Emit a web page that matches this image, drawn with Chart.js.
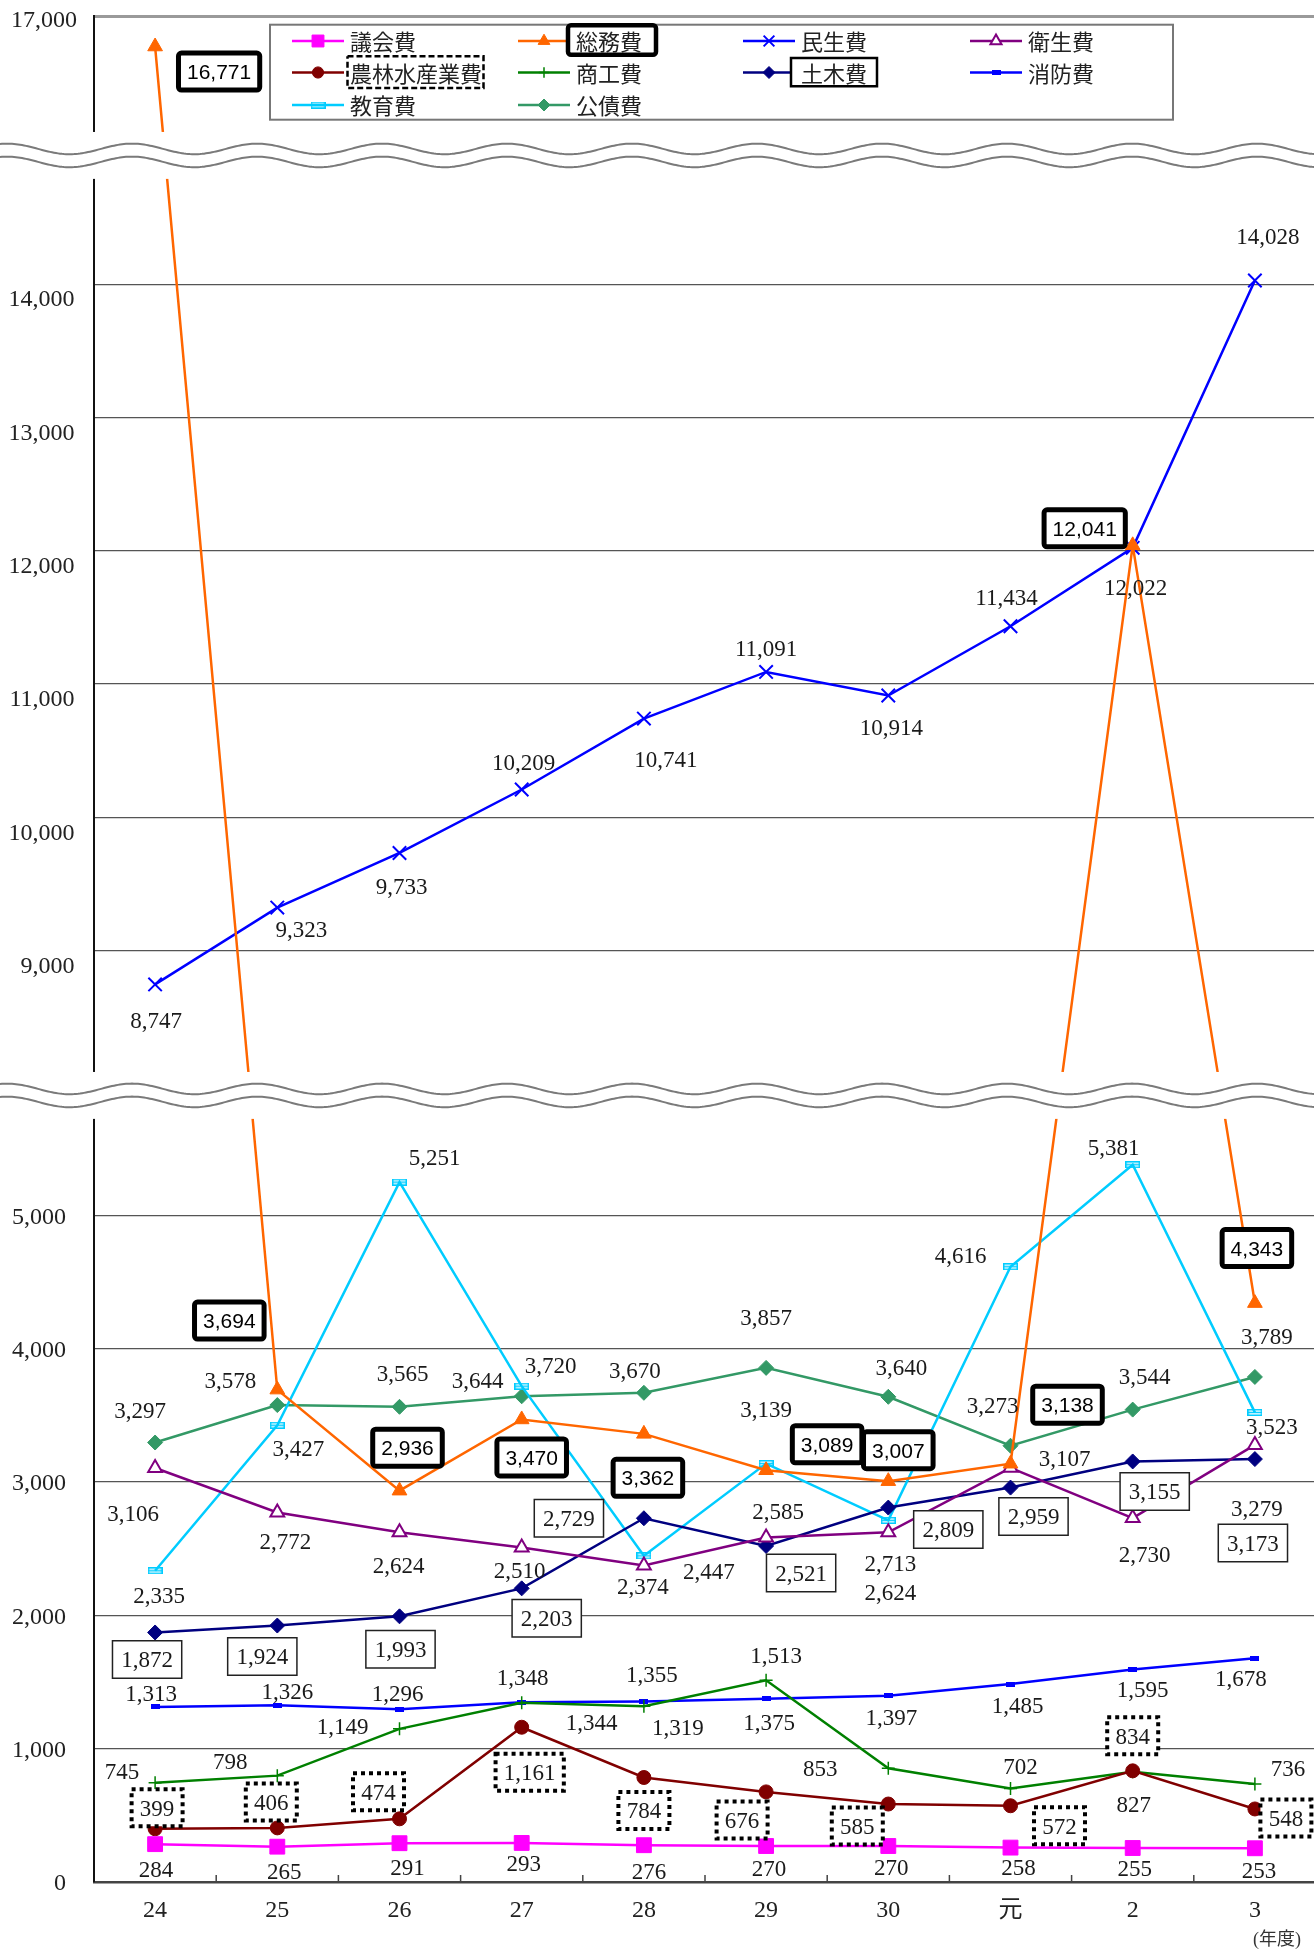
<!DOCTYPE html>
<html lang="ja">
<head>
<meta charset="utf-8">
<title>目的別歳出の推移</title>
<script src="https://cdn.jsdelivr.net/npm/chart.js@4.4.1/dist/chart.umd.min.js"></script>
<style>
  html, body { margin: 0; padding: 0; background: #fff; }
  #wrap { width: 1314px; height: 1954px; overflow: hidden; }
  canvas { display: block; }
</style>
</head>
<body>
<div id="wrap"><canvas id="chart" width="1318" height="1954" style="width:1318px;height:1954px"></canvas></div>
<script>
// 年度
const years = ['24', '25', '26', '27', '28', '29', '30', '元', '2', '3'];

// 目的別歳出（百万円）
const gikai  = [284, 265, 291, 293, 276, 270, 270, 258, 255, 253];
const somu   = [16771, 3694, 2936, 3470, 3362, 3089, 3007, 3138, 12041, 4343];
const minsei = [8747, 9323, 9733, 10209, 10741, 11091, 10914, 11434, 12022, 14028];
const eisei  = [3106, 2772, 2624, 2510, 2374, 2585, 2624, 3107, 2730, 3279];
const norin  = [399, 406, 474, 1161, 784, 676, 585, 572, 834, 548];
const shoko  = [745, 798, 1149, 1344, 1319, 1513, 853, 702, 827, 736];
const doboku = [1872, 1924, 1993, 2203, 2729, 2521, 2809, 2959, 3155, 3173];
const shobo  = [1313, 1326, 1296, 1348, 1355, 1375, 1397, 1485, 1595, 1678];
const kyoiku = [2335, 3427, 5251, 3720, 2447, 3139, 2713, 4616, 5381, 3523];
const kosai  = [3297, 3578, 3565, 3644, 3670, 3857, 3640, 3273, 3544, 3789];

const yTicks = [0, 1000, 2000, 3000, 4000, 5000, 9000, 10000, 11000, 12000, 13000, 14000, 17000];

// value ranges hidden behind the wavy bands
const breaks = [
  { from: 5725, to: 8090 },
  { from: 14790, to: 16130 }
];
const BREAK_GAP = 352; // band height in axis units

// where each value label sits, relative to its point (px)
const labelOffsets = {
  '議会費':       [[1,25],[7,25],[8,24],[2,20],[5,26],[3,22],[3,21],[8,20],[2,20],[4,22]],
  '総務費':       [[64,25],[-48,-69],[8,-43],[10,38],[4,44],[61,-26],[10,-31],[57,-59],[-48,-17],[2,-55]],
  '民生費':       [[1,36],[24,22],[2,33],[2,-27],[22,41],[0,-24],[3,32],[-4,-29],[3,39],[13,-44]],
  '衛生費':       [[-22,45],[8,29],[-1,33],[-2,23],[-1,21],[12,-26],[2,60],[54,-10],[12,36],[2,63]],
  '農林水産業費': [[2,-21],[-6,-26],[-21,-27],[8,45],[0,33],[-24,28],[-31,22],[49,20],[0,-35],[31,9]],
  '商工費':       [[-33,-12],[-47,-14],[-57,-3],[70,19],[34,21],[10,-25],[-68,0],[10,-22],[1,32],[33,-16]],
  '土木費':       [[-8,27],[-15,31],[1,33],[25,30],[-75,0],[35,27],[60,22],[23,29],[22,30],[-2,84]],
  '消防費':       [[-4,-14],[10,-14],[-2,-16],[1,-25],[8,-27],[3,23],[3,21],[7,21],[10,20],[-14,20]],
  '教育費':       [[4,24],[21,23],[35,-25],[29,-21],[65,15],[0,-54],[2,43],[-50,-12],[-19,-18],[17,14]],
  '公債費':       [[-15,-32],[-47,-25],[3,-34],[-44,-16],[-9,-23],[0,-51],[13,-30],[-18,-41],[12,-33],[12,-41]]
};

const SERIF = '"Liberation Serif", "Noto Sans CJK JP", serif';
const SANS = '"Liberation Sans", Arial, sans-serif';
const JP = '"Noto Sans CJK JP", sans-serif';

// squeeze the hidden ranges down to BREAK_GAP
function squash(v) {
  let out = v;
  for (const b of breaks) {
    const span = b.to - b.from;
    if (v >= b.to) out -= span - BREAK_GAP;
    else if (v > b.from) out -= (v - b.from) * (1 - BREAK_GAP / span);
  }
  return out;
}

function unsquash(c) {
  let v = c;
  for (const b of breaks) {
    const lo = squash(b.from), hi = lo + BREAK_GAP;
    if (c >= hi) v += (b.to - b.from) - BREAK_GAP;
    else if (c > lo) v += (c - lo) * ((b.to - b.from) / BREAK_GAP - 1);
  }
  return v;
}

class BrokenScale extends Chart.LinearScale {
  static id = 'broken';
  static defaults = Chart.LinearScale.defaults;

  buildTicks() {
    return yTicks.filter(v => v >= this.min && v <= this.max).map(v => ({ value: v }));
  }
  getPixelForValue(value) {
    if (value === null || isNaN(value)) return NaN;
    const lo = squash(this.min), hi = squash(this.max);
    return this.getPixelForDecimal((squash(value) - lo) / (hi - lo));
  }
  getValueForPixel(pixel) {
    const lo = squash(this.min), hi = squash(this.max);
    return unsquash(lo + this.getDecimalForPixel(pixel) * (hi - lo));
  }
}
Chart.register(BrokenScale);

function makeMark(w, h, paint) {
  const c = document.createElement('canvas');
  c.width = w;
  c.height = h;
  paint(c.getContext('2d'), w, h);
  return c;
}

const eduMark = makeMark(15, 7, (g, w, h) => {
  g.strokeStyle = '#00CCFF';
  g.lineWidth = 1.5;
  g.strokeRect(0.75, 0.75, w - 1.5, h - 1.5);
  g.beginPath();
  g.moveTo(0, h / 2);
  g.lineTo(w, h / 2);
  g.stroke();
});
const fireMark = makeMark(9, 5, (g, w, h) => {
  g.fillStyle = '#0000FF';
  g.fillRect(0, 0, w, h);
});

function series(label, data, color, extra) {
  return Object.assign({
    label: label,
    data: data,
    borderColor: color,
    backgroundColor: color,
    borderWidth: 2.5,
    tension: 0,
    fill: false,
    pointBackgroundColor: color,
    pointBorderColor: color,
    pointBorderWidth: 1,
    labelStyle: 'plain'
  }, extra);
}

const datasets = [
  series('議会費', gikai, '#FF00FF', { pointStyle: 'rect', pointRadius: 10.5 }),
  series('総務費', somu, '#FF6600', { pointStyle: 'triangle', pointRadius: 8.5, labelStyle: 'bold' }),
  series('民生費', minsei, '#0000FF', { pointStyle: 'crossRot', pointRadius: 9.5, pointBorderWidth: 2 }),
  series('衛生費', eisei, '#800080', { pointStyle: 'triangle', pointRadius: 8, pointBackgroundColor: '#fff', pointBorderWidth: 2 }),
  series('農林水産業費', norin, '#800000', { pointStyle: 'circle', pointRadius: 7, labelStyle: 'dotted' }),
  series('商工費', shoko, '#008000', { pointStyle: 'cross', pointRadius: 6.5, pointBorderWidth: 1.5 }),
  series('土木費', doboku, '#000080', { pointStyle: 'rectRot', pointRadius: 7.5, labelStyle: 'thin' }),
  series('消防費', shobo, '#0000FF', { pointStyle: fireMark, pointRadius: 5 }),
  series('教育費', kyoiku, '#00CCFF', { pointStyle: eduMark, pointRadius: 5 }),
  series('公債費', kosai, '#339966', { pointStyle: 'rectRot', pointRadius: 7.5 })
];

function boxPath(ctx, x, y, w, h, r) {
  ctx.beginPath();
  ctx.roundRect(x, y, w, h, r);
}

function drawValueLabel(ctx, text, cx, cy, kind) {
  ctx.save();
  ctx.textAlign = 'center';
  ctx.textBaseline = 'alphabetic';
  if (kind === 'bold') {
    ctx.font = '21px ' + SANS;
    const w = ctx.measureText(text).width + 17, h = 37;
    boxPath(ctx, cx - w / 2, cy - h / 2, w, h, 3);
    ctx.fillStyle = '#fff';
    ctx.fill();
    ctx.lineWidth = 5;
    ctx.strokeStyle = '#000';
    ctx.stroke();
    ctx.fillStyle = '#000';
    ctx.fillText(text, cx, cy + 21 * 0.36);
  } else if (kind === 'thin' || kind === 'dotted') {
    ctx.font = '23px ' + SERIF;
    const dotted = kind === 'dotted';
    const w = ctx.measureText(text).width + (dotted ? 16.5 : 17.5), h = dotted ? 37 : 37.5;
    ctx.beginPath();
    ctx.rect(cx - w / 2, cy - h / 2, w, h);
    ctx.fillStyle = '#fff';
    ctx.fill();
    ctx.strokeStyle = dotted ? '#000' : '#222';
    ctx.lineWidth = dotted ? 4 : 1.5;
    if (dotted) ctx.setLineDash([4, 4]);
    ctx.stroke();
    ctx.fillStyle = '#1a1a1a';
    ctx.fillText(text, cx, cy + 23 * 0.34);
  } else {
    ctx.font = '23px ' + SERIF;
    ctx.fillStyle = '#1a1a1a';
    ctx.fillText(text, cx, cy + 23 * 0.34);
  }
  ctx.restore();
}

function drawBreaks(chart) {
  const ctx = chart.ctx, y = chart.scales.y;
  breaks.forEach(b => {
    const top = y.getPixelForValue(b.to), bottom = y.getPixelForValue(b.from);
    ctx.save();
    ctx.fillStyle = '#fff';
    ctx.fillRect(0, top, chart.width, bottom - top);
    const mid = (top + bottom) / 2;
    [mid - 6.5, mid + 6.5].forEach(c => {
      ctx.beginPath();
      for (let x = 0; x <= chart.width; x += 2) {
        const yy = c - 5.3 * Math.cos(2 * Math.PI * (x - 132) / 125);
        if (x === 0) ctx.moveTo(x, yy); else ctx.lineTo(x, yy);
      }
      ctx.strokeStyle = '#7a7a7a';
      ctx.lineWidth = 2;
      ctx.stroke();
    });
    ctx.restore();
  });
}

function drawYLabels(chart) {
  const ctx = chart.ctx, y = chart.scales.y;
  ctx.save();
  ctx.font = '24px ' + SERIF;
  ctx.fillStyle = '#222';
  ctx.textAlign = 'right';
  ctx.textBaseline = 'alphabetic';
  y.ticks.forEach(t => {
    const v = t.value, p = y.getPixelForValue(v);
    let right = 66, dy = 0;
    if (v >= breaks[1].to) { right = 77; dy = 3; }
    else if (v >= breaks[0].to) { right = 74.5; dy = 14; }
    ctx.fillText(v.toLocaleString('en-US'), right, p + dy + 24 * 0.34);
  });
  ctx.restore();
}

function drawXTicks(chart) {
  const ctx = chart.ctx, x = chart.scales.x, bottom = chart.chartArea.bottom;
  ctx.save();
  ctx.strokeStyle = '#444';
  ctx.lineWidth = 1.5;
  ctx.beginPath();
  for (let i = 1; i < years.length; i++) {
    const px = (x.getPixelForValue(i - 1) + x.getPixelForValue(i)) / 2;
    ctx.moveTo(px, bottom);
    ctx.lineTo(px, bottom - 7);
  }
  ctx.stroke();
  ctx.font = '18px ' + SERIF;
  ctx.fillStyle = '#333';
  ctx.textAlign = 'center';
  ctx.textBaseline = 'middle';
  ctx.fillText('(年度)', 1277, 1940);
  ctx.restore();
}

// legend grid: 4 columns x 3 rows
const legendCols = [292, 518, 743, 970];
const legendRows = [41, 72.5, 105];
const legendFrames = {
  '総務費': { kind: 'bold', padL: 8, padR: 14, top: 25.3, bottom: 54.7 },
  '農林水産業費': { kind: 'dashed', padL: 2.5, padR: 1.5, top: 56.3, bottom: 88 },
  '土木費': { kind: 'thin', padL: 10, padR: 10, top: 58, bottom: 86.3 }
};

function drawLegend(chart) {
  const ctx = chart.ctx;
  ctx.save();
  ctx.fillStyle = '#fff';
  ctx.fillRect(270, 24.7, 903, 95);
  ctx.strokeStyle = '#777';
  ctx.lineWidth = 2;
  ctx.strokeRect(270, 24.7, 903, 95);

  chart.data.datasets.forEach((ds, i) => {
    const x0 = legendCols[i % 4], cy = legendRows[Math.floor(i / 4)];
    ctx.beginPath();
    ctx.moveTo(x0, cy);
    ctx.lineTo(x0 + 52, cy);
    ctx.strokeStyle = ds.borderColor;
    ctx.lineWidth = 2.5;
    ctx.stroke();

    ctx.fillStyle = ds.pointBackgroundColor;
    ctx.strokeStyle = ds.pointBorderColor;
    ctx.lineWidth = ds.pointBorderWidth;
    Chart.helpers.drawPoint(ctx, {
      pointStyle: ds.pointStyle,
      radius: typeof ds.pointStyle === 'string' ? ds.pointRadius * 0.8 : ds.pointRadius,
      rotation: 0,
      borderWidth: ds.pointBorderWidth
    }, x0 + 26, cy);

    const tx = x0 + 58;
    ctx.font = '22px ' + JP;
    const tw = ctx.measureText(ds.label).width;
    const frame = legendFrames[ds.label];
    if (frame) {
      ctx.save();
      ctx.beginPath();
      ctx.roundRect(tx - frame.padL, frame.top, tw + frame.padL + frame.padR, frame.bottom - frame.top, frame.kind === 'bold' ? 3 : 0);
      ctx.fillStyle = '#fff';
      ctx.fill();
      ctx.strokeStyle = '#000';
      ctx.lineWidth = frame.kind === 'bold' ? 4.5 : 2.5;
      if (frame.kind === 'dashed') ctx.setLineDash([6, 3]);
      ctx.stroke();
      ctx.restore();
    }
    ctx.fillStyle = '#222';
    ctx.textAlign = 'left';
    ctx.textBaseline = 'middle';
    ctx.fillText(ds.label, tx, cy + 1);
  });
  ctx.restore();
}

const decor = {
  id: 'decor',
  afterDatasetsDraw(chart) {
    const ctx = chart.ctx;
    chart.data.datasets.forEach((ds, i) => {
      const meta = chart.getDatasetMeta(i);
      const offs = labelOffsets[ds.label];
      meta.data.forEach((pt, j) => {
        const text = ds.data[j].toLocaleString('en-US');
        drawValueLabel(ctx, text, pt.x + offs[j][0], pt.y + offs[j][1], ds.labelStyle);
      });
    });
  },
  afterDraw(chart) {
    drawBreaks(chart);
    drawYLabels(chart);
    drawXTicks(chart);
    drawLegend(chart);
  }
};

new Chart(document.getElementById('chart'), {
  type: 'line',
  data: { labels: years, datasets: datasets },
  options: {
    responsive: false,
    animation: false,
    devicePixelRatio: 1,
    events: [],
    layout: { autoPadding: false, padding: { top: 16, right: 2, bottom: 0, left: 0 } },
    plugins: { legend: { display: false }, tooltip: { enabled: false } },
    scales: {
      x: {
        type: 'category',
        offset: true,
        grid: { display: false, drawTicks: false },
        border: { display: true, color: '#444', width: 2.5 },
        ticks: { color: '#222', padding: 14, maxRotation: 0, font: { family: SERIF, size: 24 } },
        afterFit(scale) { scale.height = 72; }
      },
      y: {
        type: 'broken',
        min: 0,
        max: 17000,
        grid: {
          drawTicks: false,
          color: ctx => ctx.tick.value === 17000 ? '#9a9a9a' : (ctx.tick.value === 0 ? 'rgba(0,0,0,0)' : '#555'),
          lineWidth: ctx => ctx.tick.value === 17000 ? 3 : 1.3
        },
        border: { display: true, color: '#111', width: 2 },
        ticks: { display: false },
        afterFit(scale) { scale.width = 94; }
      }
    }
  },
  plugins: [decor]
});
</script>
</body>
</html>
